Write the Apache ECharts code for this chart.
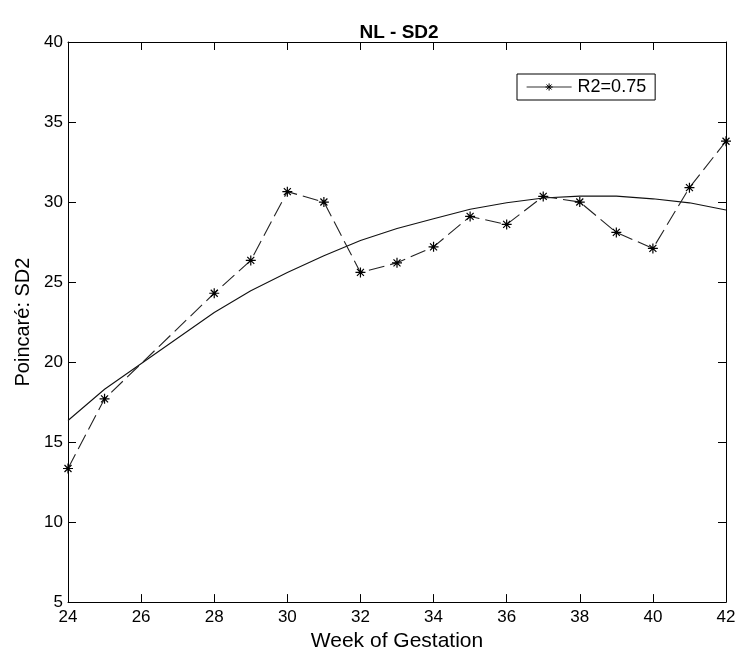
<!DOCTYPE html>
<html>
<head>
<meta charset="utf-8">
<title>NL - SD2</title>
<script src="https://cdn.jsdelivr.net/npm/echarts@6/dist/echarts.min.js"></script>
<style>
  html, body { margin: 0; padding: 0; background: #fff; }
  #chart { width: 739px; height: 657px; }
</style>
</head>
<body>
<div id="chart"></div>
<script>
// Gestational week of each measurement
const weeks = [24, 25, 28, 29, 30, 31, 32, 33, 34, 35, 36, 37, 38, 39, 40, 41, 42];
// Measured Poincaré SD2 per week
const sd2Values = [13.35, 17.7, 24.3, 26.35, 30.65, 30.0, 25.6, 26.2, 27.2, 29.1, 28.6, 30.35, 30.0, 28.1, 27.1, 30.9, 33.8];
// Fitted trend evaluated at the same weeks
const fitValues = [16.35, 18.3, 23.1, 24.45, 25.6, 26.65, 27.6, 28.35, 28.95, 29.55, 29.95, 30.25, 30.37, 30.37, 30.2, 29.95, 29.5];
const legendLabel = 'R2=0.75';

const font = '"Liberation Sans", Arial, Helvetica, sans-serif';
const ink = '#000';

// MATLAB-style asterisk marker: plus and cross overlaid
const asterisk = 'path://M5 0V10M0 5H10M1.5 1.5L8.5 8.5M1.5 8.5L8.5 1.5';

const pairs = (xs, ys) => xs.map((x, i) => [x, ys[i]]);

const tickStyle = { show: true, inside: true, length: 8, lineStyle: { color: ink, width: 1 } };
const lineStyle = { show: true, lineStyle: { color: ink, width: 1 } };

const chart = echarts.init(document.getElementById('chart'), null, { renderer: 'canvas' });
chart.setOption({
  animation: false,
  backgroundColor: '#fff',
  title: {
    text: 'NL - SD2',
    left: 394,
    top: 18,
    textAlign: 'center',
    textStyle: { fontFamily: font, fontSize: 19, fontWeight: 'bold', color: ink }
  },
  grid: { left: 68, right: 13, top: 42, bottom: 53, containLabel: false },
  legend: {
    data: [legendLabel],
    left: 517,
    top: 74,
    orient: 'horizontal',
    padding: [4, 9, 4, 9],
    itemWidth: 45,
    itemHeight: 9,
    itemGap: 5,
    backgroundColor: '#fff',
    borderColor: ink,
    borderWidth: 1,
    borderRadius: 0,
    lineStyle: { type: 'solid', color: '#333', width: 1.2 },
    itemStyle: { borderWidth: 1 },
    textStyle: { fontFamily: font, fontSize: 18, color: ink, padding: [0, 0, 0, 1] }
  },
  xAxis: [
    {
      type: 'value',
      min: 24, max: 42, interval: 2,
      position: 'bottom',
      name: 'Week of Gestation',
      nameLocation: 'middle',
      nameGap: 26,
      nameTextStyle: { fontFamily: font, fontSize: 21, color: ink },
      axisLine: lineStyle,
      axisTick: tickStyle,
      axisLabel: { margin: 7, fontFamily: font, fontSize: 17, color: ink },
      splitLine: { show: false }
    },
    {
      type: 'value',
      min: 24, max: 42, interval: 2,
      position: 'top',
      axisLine: lineStyle,
      axisTick: tickStyle,
      axisLabel: { show: false },
      splitLine: { show: false }
    }
  ],
  yAxis: [
    {
      type: 'value',
      min: 5, max: 40, interval: 5,
      position: 'left',
      name: 'Poincaré: SD2',
      nameLocation: 'middle',
      nameGap: 35,
      nameTextStyle: { fontFamily: font, fontSize: 20, color: ink },
      axisLine: lineStyle,
      axisTick: tickStyle,
      axisLabel: { margin: 5, fontFamily: font, fontSize: 17, color: ink },
      splitLine: { show: false }
    },
    {
      type: 'value',
      min: 5, max: 40, interval: 5,
      position: 'right',
      axisLine: lineStyle,
      axisTick: tickStyle,
      axisLabel: { show: false },
      splitLine: { show: false }
    }
  ],
  series: [
    {
      name: legendLabel,
      type: 'line',
      xAxisIndex: 0,
      yAxisIndex: 0,
      data: pairs(weeks, sd2Values),
      symbol: asterisk,
      symbolSize: 10,
      showSymbol: true,
      itemStyle: { color: ink, borderColor: ink, borderWidth: 1.2 },
      lineStyle: { color: '#222', width: 1.1, type: [16, 6] },
      z: 3
    },
    {
      name: 'fit',
      type: 'line',
      xAxisIndex: 0,
      yAxisIndex: 0,
      data: pairs(weeks, fitValues),
      symbol: 'none',
      lineStyle: { color: '#111', width: 1.1, type: 'solid' },
      z: 2
    }
  ]
});
</script>
</body>
</html>
